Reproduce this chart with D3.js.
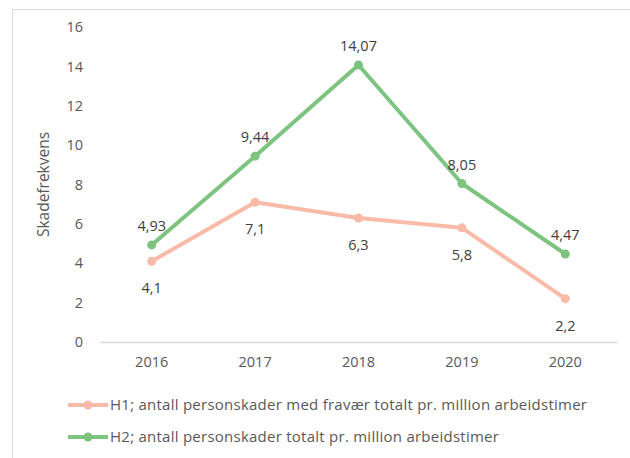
<!DOCTYPE html>
<html>
<head>
<meta charset="utf-8">
<script src="https://cdn.jsdelivr.net/npm/d3@7"></script>
<style>
	body{ margin:0; background:#fff; }
	text{ font-family: "Open Sans", Lato, sans-serif; fill:#404040; }
</style>
</head>
<body>
<svg id="chart" width="630" height="458"></svg>
<script>
var years = ["2016", "2017", "2018", "2019", "2020"];
var h1 = [4.1, 7.1, 6.3, 5.8, 2.2];
var h2 = [4.93, 9.44, 14.07, 8.05, 4.47];
var yTicks = [0, 2, 4, 6, 8, 10, 12, 14, 16];
var seriesNames = [
	"H1; antall personskader med fravær totalt pr. million arbeidstimer",
	"H2; antall personskader totalt pr. million arbeidstimer"
];
var yTitle = "Skadefrekvens";

(function(){
	'use strict';

	var svg = d3.select("#chart");
	var m = {top: 27, right: 13, bottom: 116, left: 100};
	var width = 630 - m.left - m.right;
	var height = 458 - m.top - m.bottom;

	// outer frame (cut off at right and bottom)
	svg.append("rect")
		.attr("x", 12.5).attr("y", 9.5)
		.attr("width", 640).attr("height", 470)
		.attr("fill", "none")
		.attr("stroke", "#d9d9d9")
		.attr("stroke-width", 1);

	var x = d3.scaleBand().domain(years).range([0, width]);
	var y = d3.scaleLinear().domain([0, 16]).range([height, 0]);

	var g = svg.append("g").attr("transform", "translate(" + m.left + "," + m.top + ")");

	// y axis labels
	var yAxis = d3.axisLeft(y).tickValues(yTicks).tickSize(0).tickPadding(17);
	g.append("g").call(yAxis)
		.call(function(s){ s.select(".domain").remove(); })
		.selectAll("text")
		.attr("font-size", "14.5px")
		.style("fill", "#595959");

	// x axis
	var xAxis = d3.axisBottom(x).tickSize(0).tickPadding(15);
	var gx = g.append("g").attr("transform", "translate(0," + height + ")").call(xAxis);
	gx.select(".domain").attr("stroke", "#d9d9d9").attr("stroke-width", 1.5);
	gx.selectAll("text").attr("font-size", "14.5px").style("fill", "#595959");

	// y title
	svg.append("text")
		.attr("transform", "translate(49," + (m.top + height / 2) + ") rotate(-90)")
		.attr("text-anchor", "middle")
		.attr("font-size", "15.5px")
		.style("fill", "#595959")
		.text(yTitle);

	var series = [
		{values: h1, color: "#f9bba8", above: false},
		{values: h2, color: "#7cc47f", above: true}
	];

	var line = d3.line()
		.x(function(d, i){ return x(years[i]) + x.bandwidth() / 2; })
		.y(function(d){ return y(d); });

	var fmt = function(v){ return String(v).replace(".", ","); };

	series.forEach(function(s){
		g.append("path")
			.datum(s.values)
			.attr("d", line)
			.attr("fill", "none")
			.attr("stroke", s.color)
			.attr("stroke-width", 4)
			.attr("stroke-linejoin", "round");

		g.selectAll(null).data(s.values).enter().append("circle")
			.attr("cx", function(d, i){ return x(years[i]) + x.bandwidth() / 2; })
			.attr("cy", function(d){ return y(d); })
			.attr("r", 4.5)
			.attr("fill", s.color);

		g.selectAll(null).data(s.values).enter().append("text")
			.attr("x", function(d, i){ return x(years[i]) + x.bandwidth() / 2; })
			.attr("y", function(d){ return y(d) + (s.above ? -14 : 32); })
			.attr("text-anchor", "middle")
			.attr("font-size", "14.5px")
			.text(fmt);
	});

	// legend
	var legend = svg.append("g").attr("transform", "translate(68,405)");
	series.forEach(function(s, i){
		var lg = legend.append("g").attr("transform", "translate(0," + i * 32 + ")");
		lg.append("line")
			.attr("x1", 0).attr("x2", 40)
			.attr("stroke", s.color).attr("stroke-width", 4);
		lg.append("circle").attr("cx", 20).attr("r", 4.5).attr("fill", s.color);
		lg.append("text")
			.attr("x", 42).attr("y", 5)
			.attr("font-size", "15px")
			.attr("letter-spacing", "0.25px")
			.style("fill", "#595959")
			.text(seriesNames[i]);
	});
}());
</script>
</body>
</html>
